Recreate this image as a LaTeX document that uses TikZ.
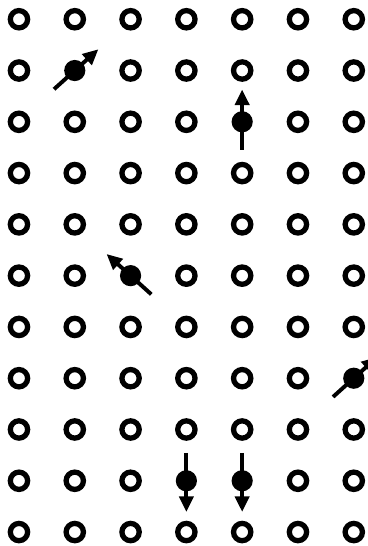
\documentclass[tikz,border=0pt]{standalone}
\usetikzlibrary{arrows.meta,calc}

\tikzset{
  site/.style={circle, draw, line width=2.7pt, minimum size=0.31cm, inner sep=0pt},
  ion/.style={circle, fill, minimum size=0.38cm, inner sep=0pt},
  spin/.style={line width=2pt, -{Triangle[length=0.28cm,width=0.25cm]}}
}

\begin{document}
\begin{tikzpicture}
\useasboundingbox (0,0) rectangle (6.595,9.785);
\clip (0,0) rectangle (6.595,9.785);

% sites that carry a spin (column/row, counted from top left)
\foreach \c/\r in {1/1,4/2,2/5,6/7,3/9,4/9} {
  \expandafter\gdef\csname spin-\c-\r\endcsname{}
}

% === Lattice: 7 columns x 11 rows ===
\foreach \c in {0,...,6} {
  \foreach \r in {0,...,10} {
    \coordinate (g-\c-\r) at ({0.34+\c},{9.44-0.919*\r});
    \ifcsname spin-\c-\r\endcsname\else
      \node[site] (a-\c-\r) at (g-\c-\r) {};
    \fi
  }
}

% --- Magnetic ions ---
\node[ion] (m1) at (g-1-1) {};
\node[ion] (m2) at (g-4-2) {};
\node[ion] (m3) at (g-2-5) {};
\node[ion] (m4) at (g-6-7) {};
\node[ion] (m5) at (g-3-9) {};
\node[ion] (m6) at (g-4-9) {};

% --- Spin arrows through the ions ---
\draw[spin] ($(m1)+(222:0.5)$) -- ($(m1)+(42:0.57)$);
\draw[spin] ($(m2)+(270:0.5)$) -- ($(m2)+(90:0.58)$);
\draw[spin] ($(m3)+(318:0.5)$) -- ($(m3)+(138:0.58)$);
\draw[spin] ($(m4)+(222:0.5)$) -- ($(m4)+(42:0.57)$);
\draw[spin] ($(m5)+(90:0.5)$) -- ($(m5)+(270:0.56)$);
\draw[spin] ($(m6)+(90:0.5)$) -- ($(m6)+(270:0.56)$);

\end{tikzpicture}
\end{document}
